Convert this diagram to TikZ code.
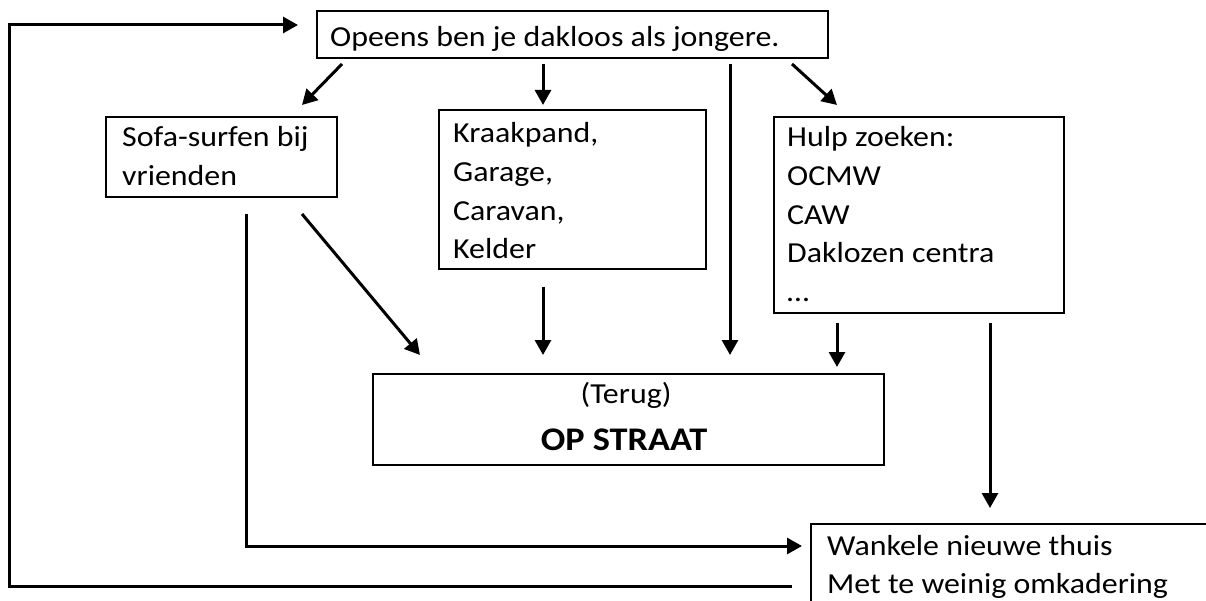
\documentclass[tikz,border=0pt]{standalone}
\usepackage{fontspec}
\setmainfont{Carlito}[FakeStretch=1.1]
\usetikzlibrary{arrows.meta,calc}
\tikzset{
  boxnode/.style={draw, line width=2pt, inner sep=0pt, anchor=north west},
  boxtext/.style={anchor=base west, inner sep=0pt, font=\fontsize{29}{38.6}\selectfont},
  midtext/.style={anchor=base, inner sep=0pt, font=\fontsize{29}{38.6}\selectfont},
  bigtext/.style={anchor=base, inner sep=0pt, font=\fontsize{33}{40}\selectfont\bfseries},
  conn/.style={line width=3pt, -{Triangle[length=15pt,width=16pt]}},
  plainline/.style={line width=3pt},
}
\begin{document}
\begin{tikzpicture}[x=1pt,y=-1pt]
\fill[white] (0,0) rectangle (1206,601);
\useasboundingbox (0,0) rectangle (1206,601);
\begin{scope}
\clip (0,0) rectangle (1206,601);
% boxes
\node[boxnode, minimum width=511pt, minimum height=47pt] (top) at (316,10) {};
\node[boxnode, minimum width=231pt, minimum height=80pt] (sofa) at (105,116) {};
\node[boxnode, minimum width=267pt, minimum height=159pt] (kraak) at (438,109) {};
\node[boxnode, minimum width=290pt, minimum height=196pt] (hulp) at (773,116) {};
\node[boxnode, minimum width=511pt, minimum height=91pt] (op) at (372,373) {};
\node[boxnode, minimum width=500pt, minimum height=200pt] (wank) at (810,523) {};
\end{scope}
% texts
\node[boxtext] (topT) at (330,47) {Opeens ben je dakloos als jongere.};
\node[boxtext] (sofaT) at (122,147) {\begin{tabular}[t]{@{}l@{}}Sofa-surfen bij\\vrienden\end{tabular}};
\node[boxtext] (kraakT) at (453,143) {\begin{tabular}[t]{@{}l@{}}Kraakpand,\\Garage,\\Caravan,\\Kelder\end{tabular}};
\node[boxtext] (hulpT) at (787,147) {\begin{tabular}[t]{@{}l@{}}Hulp zoeken:\\OCMW\\CAW\\Daklozen centra\\…\end{tabular}};
\node[midtext] (opT1) at (626,403) {(Terug)};
\node[bigtext] (opT2) at (624,450) {OP STRAAT};
\node[boxtext] (wankT) at (827,555) {\begin{tabular}[t]{@{}l@{}}Wankele nieuwe thuis\\Met te weinig omkadering\end{tabular}};
% connectors from top box
\draw[conn] ($(top.south west)+(26,5)$) -- ($(sofa.north east)+(-36,-11)$);
\draw[conn] ($(top.south west)+(227,5)$) -- ($(kraak.north west)+(105,-4)$);
\draw[conn] ($(top.south west)+(414,5)$) -- ($(op.north west)+(358,-18)$);
\draw[conn] ($(top.south west)+(476,5)$) -- ($(hulp.north west)+(64,-11)$);
% to OP STRAAT
\draw[conn] ($(sofa.south east)+(-36,16)$) -- ($(op.north west)+(48,-18)$);
\draw[conn] ($(kraak.south west)+(105,17)$) -- ($(op.north west)+(171,-18)$);
\draw[conn] ($(hulp.south west)+(64,9)$) -- ($(op.north west)+(465,-6)$);
% to Wankele
\draw[conn] ($(hulp.south west)+(217,9)$) -- ($(wank.north west)+(180,-15)$);
\draw[conn] ($(sofa.south west)+(141,16)$) |- ($(wank.north west)+(-8,23)$);
% loop back
\coordinate (loopL) at (9,586);
\draw[conn] ($(wank.north west)+(-18,63)$) -- (loopL) |- ($(top.north west)+(-18,15)$);
\end{tikzpicture}
\end{document}
